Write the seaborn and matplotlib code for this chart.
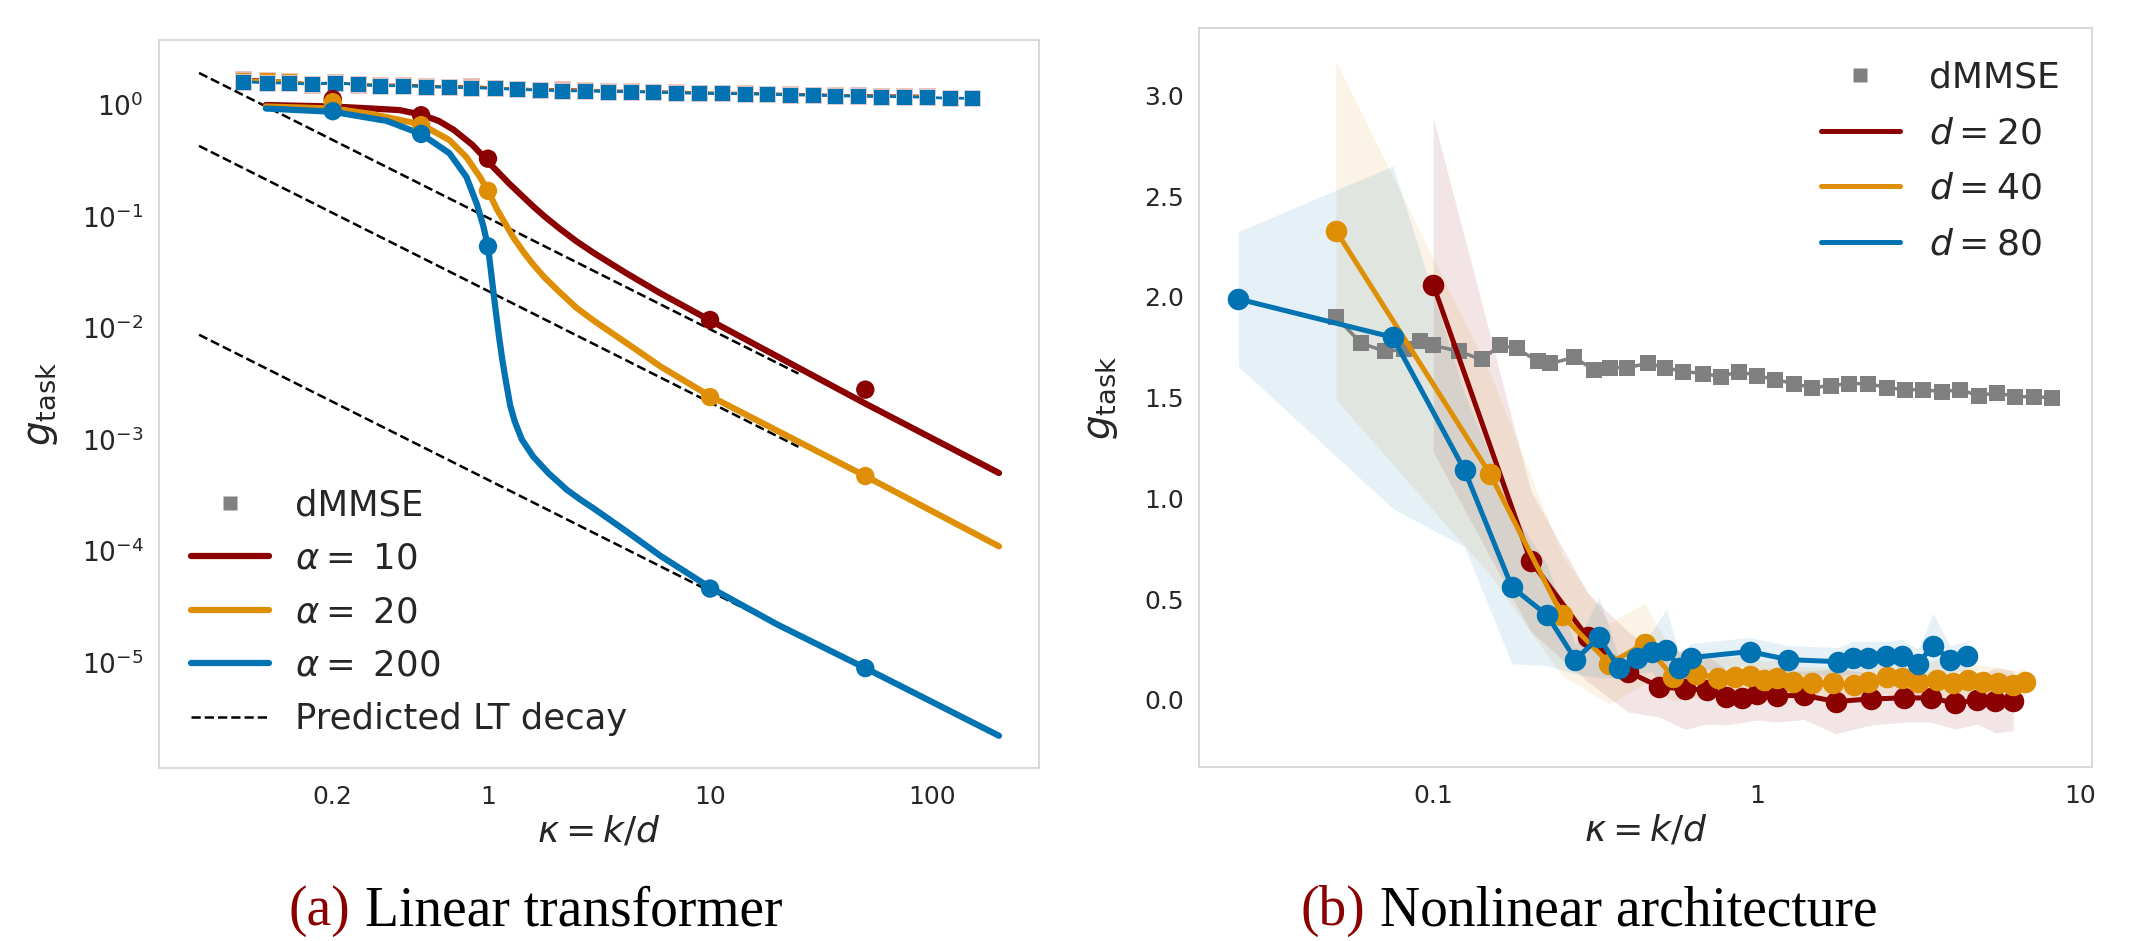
import numpy as np
import matplotlib
matplotlib.use("Agg")
import matplotlib.pyplot as plt
import seaborn as sns
from matplotlib.lines import Line2D
from matplotlib.ticker import NullFormatter, NullLocator

# ---------------- data: panel (a) linear transformer ----------------
# dMMSE baseline (squares) for each alpha
dm_left_x = [0.079, 0.101, 0.127, 0.161, 0.204, 0.259, 0.327, 0.414, 0.525, 0.665,
             0.841, 1.07, 1.35, 1.71, 2.16, 2.74, 3.47, 4.39, 5.56, 7.04, 8.91,
             11.3, 14.3, 18.1, 22.9, 29.0, 36.7, 46.5, 58.9, 74.6, 94.4, 120, 151]
dm_left_a10 = [1.70, 1.68, 1.62, 1.52, 1.60, 1.52, 1.50, 1.52, 1.48, 1.46, 1.47, 1.42,
               1.40, 1.37, 1.38, 1.36, 1.33, 1.34, 1.31, 1.31, 1.29, 1.27, 1.28, 1.26,
               1.25, 1.24, 1.22, 1.22, 1.21, 1.21, 1.20]
dm_left_a20 = [1.68, 1.66, 1.64, 1.55, 1.58, 1.55, 1.51, 1.50, 1.47, 1.45, 1.45, 1.42,
               1.39, 1.37, 1.36, 1.35, 1.33, 1.33, 1.31, 1.30, 1.28, 1.28, 1.27, 1.25,
               1.24, 1.23, 1.22, 1.21, 1.20, 1.20, 1.19]
dm_left_a200 = [1.62, 1.58, 1.57, 1.54, 1.58, 1.53, 1.49, 1.49, 1.46, 1.44, 1.43, 1.41,
                1.38, 1.36, 1.34, 1.34, 1.32, 1.32, 1.30, 1.29, 1.27, 1.27, 1.26, 1.25,
                1.23, 1.23, 1.21, 1.20, 1.19, 1.19, 1.17, 1.15, 1.15]

# theory curves
th_a10_x = [0.1, 0.2, 0.3, 0.4, 0.5, 0.6, 0.7, 0.85, 0.925, 1.0, 1.25, 1.6, 1.8, 2.1, 2.5,
            3.0, 4.2, 6.0, 10, 50, 200]
th_a10_y = [1.0, 0.97, 0.93, 0.9, 0.82, 0.72, 0.6, 0.44, 0.368, 0.31, 0.196, 0.123, 0.100,
            0.078, 0.060, 0.047, 0.031, 0.0204, 0.0117, 0.0021, 0.0005]
th_a20_x = [0.1, 0.2, 0.3, 0.5, 0.67, 0.8, 0.92, 1.0, 1.1, 1.3, 1.45, 1.6, 1.8, 2.1, 2.5,
            3.0, 4.7, 6.0, 10, 50, 200]
th_a20_y = [0.97, 0.93, 0.83, 0.67, 0.485, 0.34, 0.226, 0.17, 0.115, 0.065, 0.0475, 0.037,
            0.0283, 0.021, 0.0152, 0.0116, 0.0063, 0.0045, 0.00245, 0.00047, 0.00011]
th_a200_x = [0.1, 0.2, 0.35, 0.5, 0.67, 0.8, 0.89, 0.95, 1.0, 1.04, 1.08, 1.12, 1.16, 1.2,
             1.26, 1.32, 1.42, 1.6, 1.87, 2.26, 2.6, 3.0, 4.2, 6.0, 10, 20, 50, 200]
th_a200_y = [0.93, 0.87, 0.72, 0.55, 0.37, 0.226, 0.13, 0.084, 0.054, 0.028, 0.015, 0.0085,
             0.0052, 0.00346, 0.0020, 0.00145, 0.0010, 0.0007, 0.0005, 0.000355, 0.00029,
             0.00024, 0.00015, 0.00009, 4.7e-5, 2.2e-5, 8.9e-6, 2.2e-6]

# simulation points (circles)
sim_x = [0.2, 0.5, 1, 10, 50]
sim_a10 = [1.13, 0.81, 0.33, 0.0118, 0.0028]
sim_a20 = [1.06, 0.66, 0.17, 0.0024, 0.00047]
sim_a200 = [0.88, 0.55, 0.054, 4.6e-5, 8.9e-6]

# predicted LT decay (dashed)
pred_x = [0.05, 25]
pred_a10 = [1.94, 0.0039]
pred_a20 = [0.43, 0.00086]
pred_a200 = [0.0087, 0.0000174]

alpha_labels = [r"$\alpha =$ 10", r"$\alpha =$ 20", r"$\alpha =$ 200"]

# ---------------- data: panel (b) nonlinear architecture ----------------
dm_right_x = [0.050, 0.060, 0.071, 0.081, 0.091, 0.100, 0.120, 0.141, 0.161, 0.181, 0.211,
              0.230, 0.272, 0.313, 0.352, 0.397, 0.461, 0.520, 0.593, 0.684, 0.773, 0.881,
              1.00, 1.14, 1.30, 1.48, 1.69, 1.93, 2.21, 2.52, 2.87, 3.27, 3.73, 4.25, 4.84,
              5.52, 6.29, 7.16, 8.16]
dm_right_y = [1.90, 1.77, 1.73, 1.74, 1.78, 1.76, 1.73, 1.69, 1.76, 1.745, 1.68, 1.67, 1.70,
              1.64, 1.65, 1.65, 1.67, 1.65, 1.63, 1.62, 1.605, 1.63, 1.61, 1.59, 1.57, 1.55,
              1.56, 1.57, 1.57, 1.55, 1.54, 1.54, 1.53, 1.54, 1.51, 1.525, 1.505, 1.505, 1.50]

d20_x = [0.1, 0.2, 0.3, 0.4, 0.5, 0.6, 0.7, 0.8, 0.9, 1.0, 1.15, 1.4, 1.75, 2.25, 2.85,
         3.45, 4.1, 4.8, 5.45, 6.2]
d20_y = [2.06, 0.69, 0.31, 0.14, 0.065, 0.054, 0.05, 0.016, 0.008, 0.03, 0.02, 0.023,
         -0.008, 0.005, 0.01, 0.01, -0.016, 0.0, -0.003, -0.003]
d20_sd = [0.83, 0.35, 0.22, 0.2, 0.15, 0.2, 0.17, 0.14, 0.12, 0.13, 0.13, 0.12, 0.16, 0.13,
          0.12, 0.12, 0.13, 0.12, 0.16, 0.15]

d40_x = [0.05, 0.15, 0.25, 0.35, 0.45, 0.55, 0.65, 0.76, 0.855, 0.95, 1.05, 1.15, 1.29,
         1.48, 1.72, 1.99, 2.21, 2.52, 2.80, 3.15, 3.60, 4.05, 4.50, 5.0, 5.57, 6.2, 6.76]
d40_y = [2.33, 1.12, 0.42, 0.18, 0.28, 0.115, 0.13, 0.11, 0.115, 0.12, 0.10, 0.108, 0.091,
         0.083, 0.083, 0.074, 0.091, 0.116, 0.108, 0.091, 0.099, 0.083, 0.099, 0.091, 0.083,
         0.074, 0.091]
d40_sd = [0.84, 0.5, 0.3, 0.2, 0.2, 0.12, 0.12, 0.1, 0.1, 0.1, 0.09, 0.09, 0.08, 0.08, 0.08,
          0.08, 0.08, 0.08, 0.12, 0.08, 0.1, 0.08, 0.08, 0.08, 0.08, 0.07, 0.07]

d80_x = [0.025, 0.075, 0.125, 0.175, 0.225, 0.275, 0.325, 0.375, 0.425, 0.475, 0.525, 0.575,
         0.625, 0.95, 1.25, 1.775, 1.975, 2.2, 2.5, 2.8, 3.15, 3.5, 3.95, 4.45]
d80_y = [1.99, 1.80, 1.14, 0.56, 0.42, 0.20, 0.31, 0.16, 0.21, 0.24, 0.25, 0.16, 0.21, 0.24,
         0.20, 0.19, 0.21, 0.21, 0.22, 0.22, 0.18, 0.27, 0.20, 0.22]
d80_sd = [0.335, 0.85, 0.38, 0.38, 0.25, 0.07, 0.2, 0.05, 0.08, 0.1, 0.2, 0.07, 0.07, 0.07,
          0.07, 0.07, 0.08, 0.08, 0.07, 0.08, 0.07, 0.16, 0.07, 0.07]

d_labels = [r"$d = 20$", r"$d = 40$", r"$d = 80$"]

# ---------------- style ----------------
sns.set_theme(style="whitegrid")
plt.rcParams["font.family"] = ["DejaVu Sans"]
plt.rcParams["mathtext.fontset"] = "dejavusans"
plt.rcParams["axes.grid"] = False

RED = "#8B0000"
ORANGE = "#DE8F05"
BLUE = "#0173B2"
GRAY = "#808080"
COLORS = [RED, ORANGE, BLUE]

fig = plt.figure(figsize=(21.31, 9.41), dpi=100)
axL = fig.add_axes([0.0746, 0.1838, 0.4130, 0.7737])
axR = fig.add_axes([0.5627, 0.1849, 0.4191, 0.7853])

# ---------------- panel (a) ----------------
axL.set_xscale("log")
axL.set_yscale("log")

dm_sets = [(dm_left_x[:len(dm_left_a10)], dm_left_a10),
           (dm_left_x[:len(dm_left_a20)], dm_left_a20),
           (dm_left_x[:len(dm_left_a200)], dm_left_a200)]
for (xs, ys), c in zip(dm_sets, COLORS):
    sns.lineplot(x=xs, y=ys, ax=axL, color=c, lw=2, marker="s", markersize=11.5,
                 markeredgewidth=0.6, markeredgecolor="#f0d0d0", estimator=None,
                 sort=False, legend=False)

for px in [pred_a10, pred_a20, pred_a200]:
    sns.lineplot(x=pred_x, y=px, ax=axL, color="black", lw=1.8, ls="--",
                 estimator=None, sort=False, legend=False)

theory = [(th_a10_x, th_a10_y), (th_a20_x, th_a20_y), (th_a200_x, th_a200_y)]
sims = [sim_a10, sim_a20, sim_a200]
for (tx, ty), sy, c in zip(theory, sims, COLORS):
    sns.lineplot(x=tx, y=ty, ax=axL, color=c, lw=4.5, estimator=None, sort=False,
                 legend=False, solid_capstyle="round", solid_joinstyle="round")
    sns.scatterplot(x=sim_x, y=sy, ax=axL, color=c, s=175, edgecolor="none",
                    legend=False, zorder=3)

axL.set_xlim(0.033, 303)
axL.set_ylim(1.13e-6, 3.83)
axL.set_xticks([0.2, 1, 10, 100])
axL.set_xticklabels(["0.2", "1", "10", "100"])
axL.xaxis.set_minor_locator(NullLocator())
axL.xaxis.set_minor_formatter(NullFormatter())
axL.set_yticks([1e-5, 1e-4, 1e-3, 1e-2, 1e-1, 1])
axL.yaxis.set_minor_locator(NullLocator())
axL.yaxis.set_minor_formatter(NullFormatter())

handlesL = [Line2D([], [], marker="s", ls="none", color=GRAY, ms=9.5, mec="none")]
handlesL += [Line2D([], [], color=c, lw=4.5) for c in COLORS]
handlesL += [Line2D([], [], color="black", lw=1.8, ls="--")]
axL.legend(handlesL, ["dMMSE"] + alpha_labels + ["Predicted LT decay"],
           loc="lower left", frameon=False, fontsize=25.5, handlelength=2.2,
           handletextpad=0.75, labelspacing=0.55)

# ---------------- panel (b) ----------------
axR.set_xscale("log")
sns.lineplot(x=dm_right_x, y=dm_right_y, ax=axR, color=GRAY, lw=2.5, marker="s",
             markersize=11.5, markeredgewidth=0, estimator=None, sort=False,
             legend=False)

series = [(d20_x, d20_y, d20_sd), (d40_x, d40_y, d40_sd), (d80_x, d80_y, d80_sd)]
for (xs, ys, sd), c in zip(series, COLORS):
    ys_a = np.array(ys)
    sd_a = np.array(sd)
    axR.fill_between(xs, ys_a - sd_a, ys_a + sd_a, color=c, alpha=0.1, lw=0)
for (xs, ys, sd), c in zip(series, COLORS):
    sns.lineplot(x=xs, y=ys, ax=axR, color=c, lw=3.6, marker="o", markersize=15.5,
                 markeredgewidth=0, estimator=None, sort=False, legend=False)

axR.set_xlim(0.0189, 10.87)
axR.set_ylim(-0.333, 3.335)
axR.set_xticks([0.1, 1, 10])
axR.set_xticklabels(["0.1", "1", "10"])
axR.xaxis.set_minor_locator(NullLocator())
axR.xaxis.set_minor_formatter(NullFormatter())
axR.set_yticks([0.0, 0.5, 1.0, 1.5, 2.0, 2.5, 3.0])
axR.set_yticklabels(["0.0", "0.5", "1.0", "1.5", "2.0", "2.5", "3.0"])

handlesR = [Line2D([], [], marker="s", ls="none", color=GRAY, ms=10.5, mec="none")]
handlesR += [Line2D([], [], color=c, lw=3.6) for c in COLORS]
axR.legend(handlesR, ["dMMSE"] + d_labels, loc="upper right", frameon=False,
           fontsize=26, handlelength=2.2, handletextpad=0.8, labelspacing=0.6)

# ---------------- common axis styling ----------------
for ax, ylab_x in [(axL, -0.1125), (axR, -0.0885)]:
    ax.tick_params(axis="both", which="both", length=0, labelsize=18)
    ax.tick_params(axis="x", pad=12)
    ax.tick_params(axis="y", pad=11)
    ax.set_xlabel(r"$\kappa = k/d$", fontsize=26, labelpad=4)
    ax.set_ylabel(r"$g_{\mathrm{task}}$", fontsize=28)
    ax.yaxis.set_label_coords(ylab_x, 0.5)
    ax.grid(False)
    for sp in ax.spines.values():
        sp.set_color("#d6d6d6")
        sp.set_linewidth(1.3)
axL.tick_params(axis="y", labelsize=19)

# ---------------- captions ----------------
cap_y = 1 - 925 / 941
cap_kw = dict(fontsize=40, family="Liberation Serif", va="baseline")
fig.text(350 / 2131, cap_y, "(a)", ha="right", color="#8B0000", **cap_kw)
fig.text(365 / 2131, cap_y, "Linear transformer", ha="left", color="black", **cap_kw)
fig.text(1365 / 2131, cap_y, "(b)", ha="right", color="#8B0000", **cap_kw)
fig.text(1380 / 2131, cap_y, "Nonlinear architecture", ha="left", color="black", **cap_kw)

fig.savefig("out.png", dpi=100)
